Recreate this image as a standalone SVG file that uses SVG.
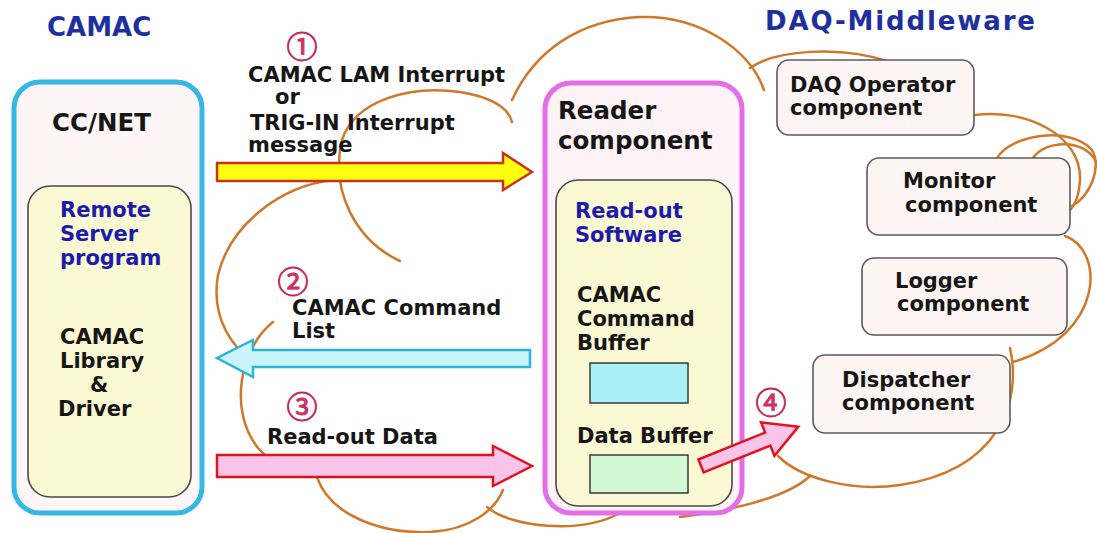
<svg xmlns="http://www.w3.org/2000/svg" width="1097" height="533" viewBox="0 0 1097 533">
<style>
.t{font-family:"DejaVu Sans","Liberation Sans",sans-serif;font-weight:bold;font-size:21px;fill:#161616}
.big{font-size:24.5px}
.blue{fill:#1c1ca8}
.title{font-family:"DejaVu Sans","Liberation Sans",sans-serif;font-weight:bold;fill:#1f2f9f}
.num{font-family:"Noto Sans CJK JP","DejaVu Sans",sans-serif;font-size:31px;fill:#d8356e;stroke:#c02a5c;stroke-width:0.9}
.cloud path{fill:none;stroke:#d0782a;stroke-width:2.5;stroke-linecap:round}
.comp{fill:#fdf4f4;stroke:#5a5a5a;stroke-width:1.6}
.inner{fill:#fbf8d4;stroke:#4a4a4a;stroke-width:1.6}
</style>
<rect width="1097" height="533" fill="#ffffff"/>

<g id="cloud" class="cloud">
<path d="M400,261 C355,240 330,190 342,140 C355,100 410,85 460,92 C490,97 508,106 512,122"/>
<path d="M512,100 C535,50 580,20 640,17 C700,15 750,50 764,90"/>
<path d="M750,68 C775,50 840,45 890,62"/>
<path d="M975,115 C1025,108 1082,135 1080,180 C1079,195 1075,205 1070,210"/>
<path d="M997,158 C1010,135 1070,125 1092,150 C1102,168 1090,196 1072,206"/>
<path d="M1033,158 C1045,140 1085,138 1096,162"/>
<path d="M1065,236 C1105,250 1105,335 1013,362"/>
<path d="M1010,348 C1022,400 1000,470 900,485 C850,492 800,478 778,456"/>
<path d="M487,507 C510,527 580,535 620,513"/>
<path d="M680,517 C720,512 785,500 810,476"/>
<path d="M317,477 C330,515 380,534 430,532 C470,530 495,510 503,490"/>
<path d="M333,180 C280,186 230,225 218,275 C212,310 225,340 253,363"/>
<path d="M273,322 C240,348 228,410 258,448 C270,462 285,468 300,472"/>
</g>

<text class="title" x="47" y="36" font-size="26">CAMAC</text>
<text class="title" x="765" y="30" font-size="26" textLength="270" lengthAdjust="spacing">DAQ-Middleware</text>

<g id="ccnet">
<rect x="14" y="82" width="188" height="431" rx="26" fill="#fdf5f6" stroke="#36b8e2" stroke-width="5"/>
<text class="t big" x="52" y="131">CC/NET</text>
<g id="remote-server">
<rect class="inner" x="28" y="186" width="163" height="311" rx="22"/>
<text class="t blue" x="60" y="217">Remote</text>
<text class="t blue" x="60" y="241">Server</text>
<text class="t blue" x="60" y="265">program</text>
<text class="t" x="60" y="344">CAMAC</text>
<text class="t" x="60" y="368">Library</text>
<text class="t" x="90" y="392">&amp;</text>
<text class="t" x="58" y="416">Driver</text>
</g>
</g>

<g id="reader">
<rect x="545" y="83" width="197" height="430" rx="26" fill="#fdf2f5" stroke="#e46ee8" stroke-width="5"/>
<text class="t big" x="558" y="119">Reader</text>
<text class="t big" x="558" y="149">component</text>
<g id="readout-software">
<rect class="inner" x="556" y="180" width="176" height="326" rx="22"/>
<text class="t blue" x="575" y="218">Read-out</text>
<text class="t blue" x="575" y="242">Software</text>
<text class="t" x="577" y="302">CAMAC</text>
<text class="t" x="577" y="326">Command</text>
<text class="t" x="577" y="350">Buffer</text>
<rect id="command-buffer" x="590" y="363" width="98" height="40" fill="#a8f0f8" stroke="#3a3a3a" stroke-width="1.5"/>
<text class="t" x="577" y="443">Data Buffer</text>
<rect id="data-buffer" x="590" y="455" width="98" height="38" fill="#d2f8d4" stroke="#3a3a3a" stroke-width="1.5"/>
</g>
</g>

<g id="daq-operator">
<rect class="comp" x="777" y="60" width="197" height="75" rx="12"/>
<text class="t" x="790" y="92">DAQ Operator</text>
<text class="t" x="790" y="115">component</text>
</g>
<g id="monitor">
<rect class="comp" x="867" y="158" width="203" height="77" rx="12"/>
<text class="t" x="903" y="188">Monitor</text>
<text class="t" x="905" y="212">component</text>
</g>
<g id="logger">
<rect class="comp" x="862" y="258" width="205" height="77" rx="12"/>
<text class="t" x="895" y="288">Logger</text>
<text class="t" x="897" y="311">component</text>
</g>
<g id="dispatcher">
<rect class="comp" x="813" y="355" width="197" height="78" rx="12"/>
<text class="t" x="842" y="387">Dispatcher</text>
<text class="t" x="842" y="410">component</text>
</g>

<g id="connectors">
<polygon points="217,163 503,163 503,153 532,172 503,190 503,181 217,181" fill="#ffff10" stroke="#c8321a" stroke-width="2.5" stroke-linejoin="miter"/>
<polygon points="530,350 253,350 253,340 217,358 253,377 253,367 530,367" fill="#c8f4fa" stroke="#30b2da" stroke-width="2.5"/>
<polygon points="217,455 493,455 493,446 532,466 493,486 493,477 217,477" fill="#f8c4ea" stroke="#e0141e" stroke-width="2.5"/>
<polygon transform="translate(701,466) rotate(-22)" points="0,-7 72,-7 72,-18 105,0 72,18 72,7 0,7" fill="#f8c4ea" stroke="#e0141e" stroke-width="2.5"/>
</g>

<g id="labels">
<text class="num" x="302" y="44" text-anchor="middle" dominant-baseline="central">①</text>
<text class="t" x="248" y="82">CAMAC LAM Interrupt</text>
<text class="t" x="275" y="104">or</text>
<text class="t" x="250" y="130">TRIG-IN Interrupt</text>
<text class="t" x="248" y="152">message</text>
<text class="num" x="293" y="279" text-anchor="middle" dominant-baseline="central">②</text>
<text class="t" x="292" y="315">CAMAC Command</text>
<text class="t" x="292" y="338">List</text>
<text class="num" x="302" y="404" text-anchor="middle" dominant-baseline="central">③</text>
<text class="t" x="267" y="444">Read-out Data</text>
<text class="num" x="771" y="400" text-anchor="middle" dominant-baseline="central">④</text>
</g>
</svg>
